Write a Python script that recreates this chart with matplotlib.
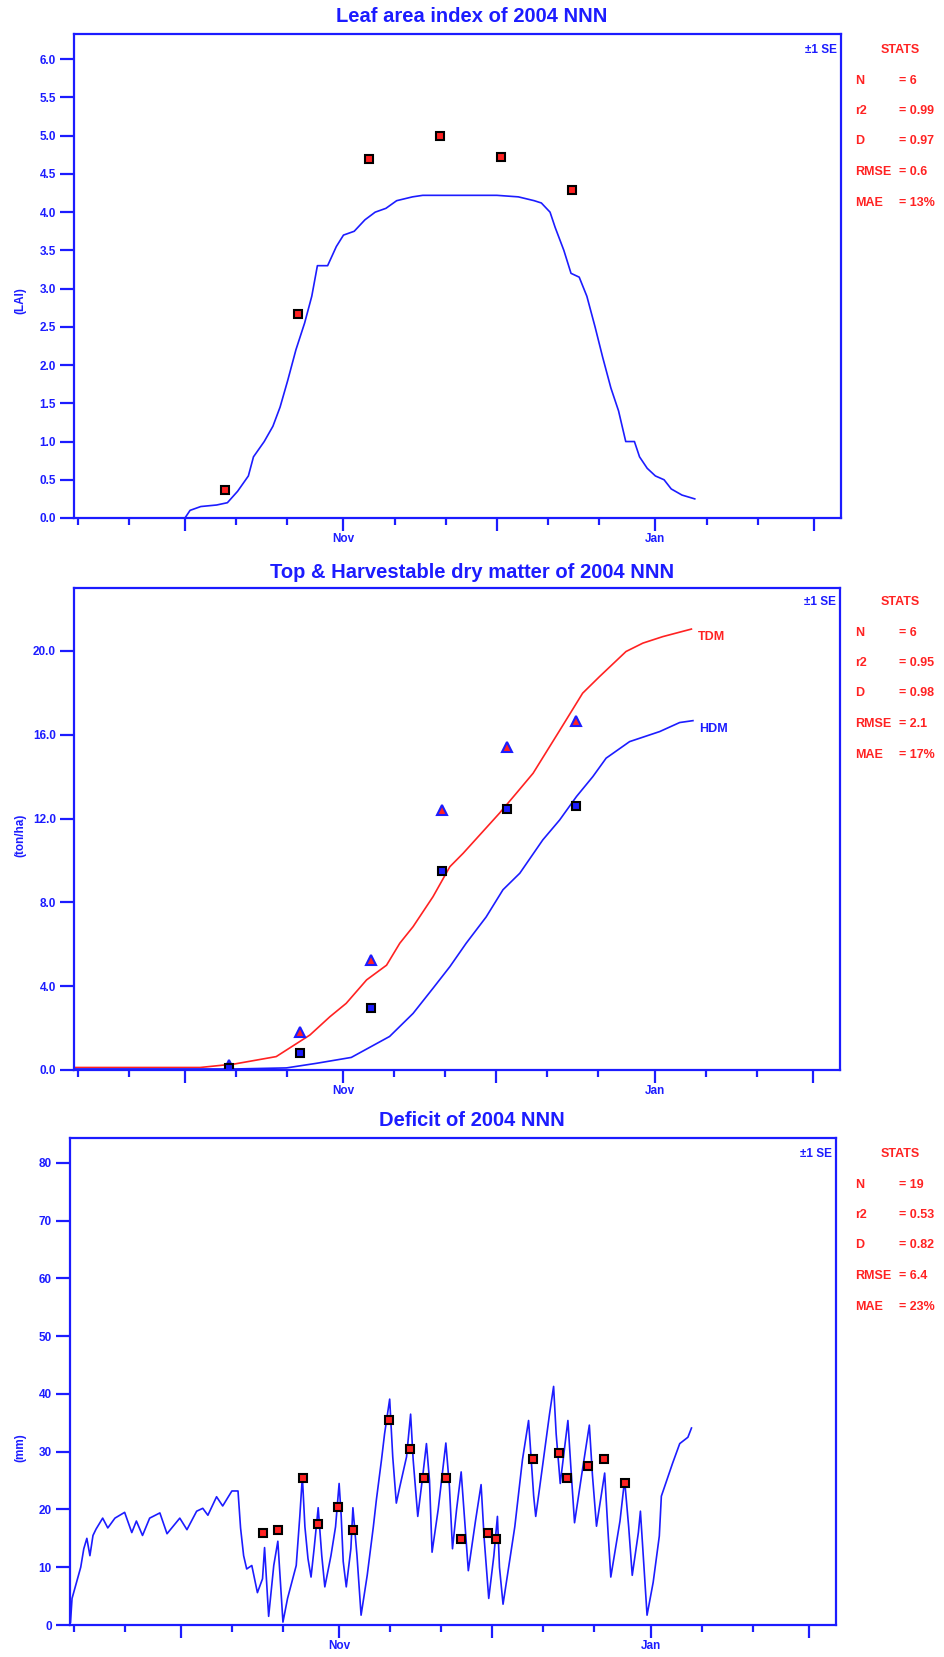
import numpy as np
import matplotlib.pyplot as plt

plt.rcParams['font.family'] = ['Liberation Sans', 'DejaVu Sans']
plt.rcParams['font.weight'] = 'bold'

BLUE = '#1c1cff'
RED = '#ff2222'
W, H = 944, 1657

# x axis in days after 1 Sep 2004
month_ticks = [30, 61, 91, 122, 153]
month_labels = ['', 'Nov', '', 'Jan', '']
minor_ticks = [9, 19, 40, 50, 71, 81, 101, 111, 132, 142]
x_range = (8.3, 158.3)

# leaf area index
lai_day = [8.3, 30, 31.0, 33.1, 36.2, 38.3, 40.3, 42.4, 43.4, 45.5, 47.2, 48.6, 50.1, 51.7,
           53.4, 54.8, 55.9, 57.9, 59.6, 61.0, 63.1, 65.2, 67.2, 69.3, 71.4, 74.5, 76.5,
           91.0, 95.2, 98.3, 99.7, 101.4, 102.4, 104.1, 105.5, 107.1, 108.6, 110.2,
           111.7, 113.3, 114.8, 116.2, 117.9, 118.9, 120.4, 122.0, 123.7, 125.1, 127.2, 129.7]
lai_sim = [0, 0, 0.1, 0.15, 0.17, 0.2, 0.35, 0.55, 0.8, 1.0, 1.2, 1.45, 1.8, 2.2,
           2.55, 2.9, 3.3, 3.3, 3.55, 3.7, 3.75, 3.9, 4.0, 4.05, 4.15, 4.2, 4.22,
           4.22, 4.2, 4.15, 4.12, 4.0, 3.8, 3.5, 3.2, 3.15, 2.9, 2.5,
           2.1, 1.7, 1.4, 1.0, 1.0, 0.8, 0.65, 0.55, 0.5, 0.38, 0.3, 0.25]
lai_obs_day = [37.8, 52.1, 66.0, 79.9, 91.8, 105.7]
lai_obs = [0.36, 2.67, 4.7, 5.0, 4.72, 4.29]

# top and harvestable dry matter
tdm_day = [8.3, 33, 39.8, 47.9, 54.5, 58.4, 61.6, 65.6, 69.5, 72.1, 74.7, 78.6, 81.9, 84.5,
           91.6, 94.9, 98.2, 103.4, 107.9, 111.2, 116.4, 119.7, 123.6, 129.2]
tdm_sim = [0.12, 0.12, 0.29, 0.64, 1.67, 2.54, 3.18, 4.3, 5.0, 6.05, 6.84, 8.27, 9.7, 10.34,
           12.25, 13.2, 14.16, 16.2, 17.98, 18.77, 19.97, 20.37, 20.68, 21.04]
hdm_day = [8.3, 40, 49.9, 55.8, 62.6, 70.1, 74.7, 78.6, 81.9, 85.1, 89.0, 92.3, 95.6, 100.1,
           103.4, 106.7, 109.9, 112.5, 117.1, 123.0, 126.9, 129.5]
hdm_sim = [0.05, 0.05, 0.1, 0.32, 0.6, 1.6, 2.7, 3.9, 4.93, 6.05, 7.3, 8.6, 9.39, 10.98,
           11.93, 13.05, 14.0, 14.88, 15.67, 16.15, 16.58, 16.67]
dm_obs_day = [38.6, 52.5, 66.4, 80.3, 93.0, 106.7]
tdm_obs = [0.24, 1.8, 5.25, 12.4, 15.4, 16.65]
hdm_obs = [0.1, 0.8, 2.95, 9.5, 12.45, 12.6]

# soil water deficit
def_day = [8.4, 8.7, 9.3, 10.4, 11.0, 11.6, 12.2, 12.8, 13.4, 14.7, 15.7, 17.1, 19.0, 20.4,
           21.3, 22.5, 23.9, 25.9, 27.3, 29.8, 31.2, 33.1, 34.3, 35.3, 37.0, 38.2, 40.0,
           41.2, 41.7, 42.3, 42.9, 43.9, 45.0, 46.0, 46.4, 47.2, 48.2, 49.0, 50.0, 50.9,
           52.6, 53.3, 53.8, 54.3, 54.9, 55.5, 56.1, 56.9, 57.6, 58.2, 59.4, 60.3, 61.0,
           61.4, 61.8, 62.4, 63.3, 63.7, 64.5, 65.3, 66.5, 67.7, 68.3, 69.3, 69.9, 70.9,
           71.5, 72.2, 72.9, 74.2, 75.0, 75.5, 76.4, 77.4, 78.1, 78.7, 79.2, 80.4, 81.3,
           81.9, 82.6, 83.2, 84.0, 84.9, 85.6, 86.3, 87.7, 88.8, 89.4, 90.3, 91.3, 92.0,
           92.4, 93.1, 94.2, 95.4, 96.9, 98.1, 99.1, 99.5, 100.3, 102.2, 103.0, 103.5,
           104.3, 105.8, 106.4, 107.1, 108.5, 110.0, 110.6, 111.4, 113.0, 113.6, 114.2,
           116.0, 116.9, 117.7, 118.4, 119.6, 120.0, 120.7, 121.3, 122.5, 123.7, 124.1,
           126.3, 127.7, 129.3, 130.0]
def_sim = [0.5, 4.6, 6.5, 10, 13.2, 15, 12, 15.5, 16.6, 18.5, 16.8, 18.5, 19.5, 16.0,
           18, 15.5, 18.5, 19.4, 15.8, 18.5, 16.5, 19.7, 20.2, 19.0, 22.2, 20.6, 23.2,
           23.2, 16.8, 12, 9.7, 10.3, 5.6, 8.0, 13.4, 1.5, 10.3, 14.5, 0.5, 4.6,
           10.3, 18.8, 25.7, 17, 11.5, 8.3, 13.2, 20.3, 12, 6.6, 12, 17, 24.5,
           19, 11, 6.6, 13.2, 20.3, 12, 1.7, 8.6, 17, 21.7, 28.6, 33.1, 39.1,
           29.1, 21.1, 24, 29.1, 36.5, 28.6, 18.8, 26, 31.4, 25, 12.6, 20, 27,
           31.5, 24, 13.2, 20, 26.5, 18, 9.4, 18, 24.3, 15, 4.6, 12, 18.8,
           10, 3.6, 10, 17, 28.6, 35.4, 22.3, 18.8, 24, 36.5, 41.3, 33.1,
           24.5, 35.4, 27, 17.7, 26, 34.6, 26, 17.1, 26.3, 17, 8.3,
           18, 25.1, 17, 8.6, 16, 19.7, 10, 1.7, 7.4, 15.4, 22.3,
           28, 31.4, 32.5, 34.1]
def_obs_day = [46.0, 49.0, 53.9, 56.8, 60.7, 63.7, 70.7, 74.8, 77.7, 81.9, 84.8, 90.1,
               91.8, 98.9, 104.0, 105.7, 109.8, 112.8, 116.9]
def_obs = [15.9, 16.5, 25.5, 17.5, 20.5, 16.5, 35.5, 30.5, 25.5, 25.5, 14.9, 15.9,
           14.9, 28.8, 29.7, 25.5, 27.6, 28.8, 24.5]

stat_names = ['N', 'r2', 'D', 'RMSE', 'MAE']
lai_stats = ['= 6', '= 0.99', '= 0.97', '= 0.6', '= 13%']
dm_stats = ['= 6', '= 0.95', '= 0.98', '= 2.1', '= 17%']
def_stats = ['= 19', '= 0.53', '= 0.82', '= 6.4', '= 23%']

fig = plt.figure(figsize=(W / 100, H / 100), dpi=100)


def fx(px):
    return px / W


def fy(py):
    return 1 - py / H


def panel(box, ylim, yticks, yfmt, ylabel, ylabel_y, title, title_y, stats, stats_y):
    l, t, r, b = box
    ax = fig.add_axes([fx(l), fy(b), (r - l) / W, (b - t) / H])
    ax.set_xlim(*x_range)
    ax.set_ylim(*ylim)
    for s in ax.spines.values():
        s.set_color(BLUE)
        s.set_linewidth(1.6)
    ax.set_xticks(month_ticks)
    ax.set_xticklabels(month_labels)
    ax.set_xticks(minor_ticks, minor=True)
    ax.set_yticks(yticks)
    ax.set_yticklabels([yfmt % v for v in yticks])
    ax.tick_params(axis='both', which='major', direction='out', color=BLUE, width=1.6,
                   labelcolor=BLUE, labelsize=8.5)
    ax.tick_params(axis='x', which='major', length=9.5, pad=1.5)
    ax.tick_params(axis='y', which='major', length=10, pad=3)
    ax.tick_params(axis='x', which='minor', direction='out', color=BLUE, width=1.6, length=5)
    fig.text(0.5, fy(title_y), title, ha='center', va='center', color=BLUE,
             fontsize=14.5, fontweight='bold')
    fig.text(fx(20), fy(ylabel_y), ylabel, rotation=90, ha='center', va='center',
             color=BLUE, fontsize=8.5)
    fig.text(fx(r - 4), fy(stats_y), '\u00b11 SE', ha='right', va='center', color=BLUE,
             fontsize=8.5)
    fig.text(fx(900), fy(stats_y), 'STATS', ha='center', va='center', color=RED, fontsize=9)
    for i, (n, v) in enumerate(zip(stat_names, stats)):
        yy = stats_y + 30.5 * (i + 1)
        fig.text(fx(855), fy(yy), n, ha='left', va='center', color=RED, fontsize=9)
        fig.text(fx(899), fy(yy), v, ha='left', va='center', color=RED, fontsize=9)
    return ax


# Leaf area index
ax1 = panel((74, 34, 841, 518), (0, 6.33), np.arange(0, 6.01, 0.5), '%.1f', '(LAI)', 301,
            'Leaf area index of 2004 NNN', 17, lai_stats, 50)
ax1.plot(lai_day, lai_sim, color=BLUE, lw=1.2)
ax1.plot(lai_obs_day, lai_obs, 's', ms=6, mfc=RED, mec='black', mew=1.5)

# dry matter
ax2 = panel((74, 588, 840, 1070), (0, 23.0), [0, 4, 8, 12, 16, 20], '%.1f', '(ton/ha)', 835,
            'Top & Harvestable dry matter of 2004 NNN', 573, dm_stats, 602)
ax2.plot(tdm_day, tdm_sim, color=RED, lw=1.2)
ax2.plot(hdm_day, hdm_sim, color=BLUE, lw=1.2)
ax2.plot(dm_obs_day, tdm_obs, '^', ms=7, mfc=RED, mec=BLUE, mew=1.5)
ax2.plot(dm_obs_day, hdm_obs, 's', ms=6, mfc=BLUE, mec='black', mew=1.5)
ax2.text(tdm_day[-1] + 1.3, tdm_sim[-1] - 0.4, 'TDM', color=RED, fontsize=9, va='center')
ax2.text(hdm_day[-1] + 1.3, hdm_sim[-1] - 0.4, 'HDM', color=BLUE, fontsize=9, va='center')

# deficit
ax3 = panel((70, 1138, 836, 1625), (0, 84.3), list(range(0, 81, 10)), '%d', '(mm)', 1448,
            'Deficit of 2004 NNN', 1120, def_stats, 1154)
ax3.plot(def_day, def_sim, color=BLUE, lw=1.2)
ax3.plot(def_obs_day, def_obs, 's', ms=6, mfc=RED, mec='black', mew=1.5)

fig.savefig('out.png', dpi=100, facecolor='white')
